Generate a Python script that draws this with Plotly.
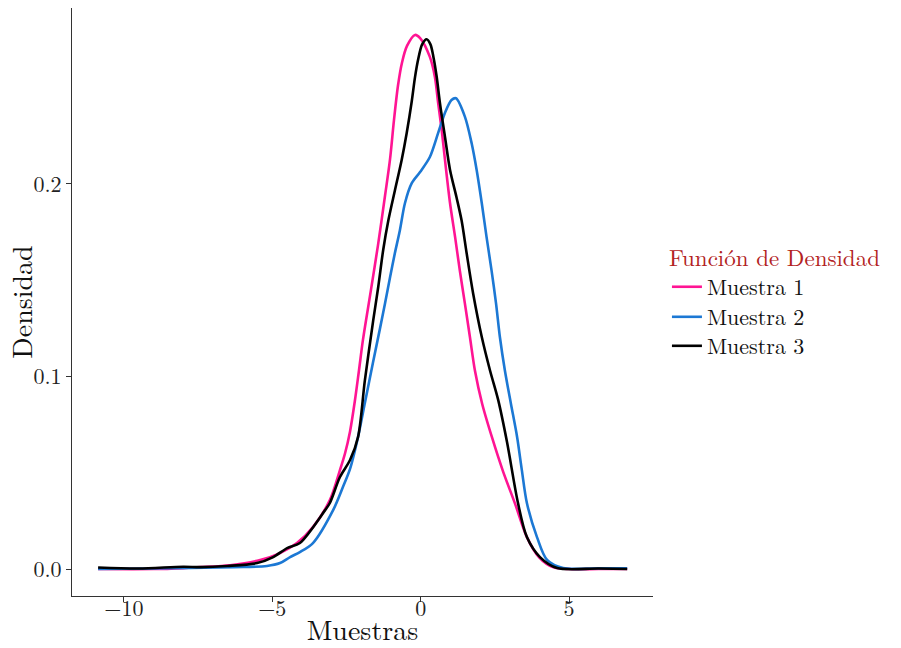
import plotly.graph_objects as go

# Muestra 1 (pink)
x1 = [-10.87, -9.0, -8.0, -7.43, -6.42, -5.41, -4.74, -4.17, -3.63, -3.06, -2.72, -2.55, -2.38, -2.22, -2.08, -1.945,
      -1.675, -1.44, -1.20, -1.035, -0.90, -0.765, -0.63, -0.46, -0.19, -0.02, 0.31, 0.48, 0.59, 0.71,
      0.82, 0.99, 1.16, 1.32, 1.49, 1.66, 1.83, 2.07, 2.40, 2.77, 3.18, 3.58, 4.0, 4.46, 5.0, 6.0, 6.96]
y1 = [0.0, 0.0, 0.0005, 0.001, 0.002, 0.0047, 0.0083, 0.0135, 0.0218, 0.0358, 0.0514, 0.060, 0.0715, 0.087, 0.103, 0.119,
      0.145, 0.168, 0.194, 0.2125, 0.233, 0.251, 0.263, 0.2717, 0.2774, 0.2758, 0.266, 0.2556, 0.242, 0.228,
      0.2125, 0.190, 0.1725, 0.155, 0.138, 0.1205, 0.103, 0.086, 0.0686, 0.051, 0.034, 0.0166, 0.006, 0.001, 0.0, 0.0, 0.0]

# Muestra 2 (blue)
x2 = [-10.87, -9.1, -6.32, -5.18, -4.74, -4.40, -4.07, -3.63, -2.95, -2.62, -2.38, -2.11, -1.88, -1.61,
      -1.37, -1.20, -1.03, -0.87, -0.70, -0.53, -0.30, -0.02, 0.31, 0.59, 0.82, 1.04, 1.19, 1.49, 1.72,
      1.89, 2.06, 2.22, 2.39, 2.54, 2.67, 2.84, 3.04, 3.25, 3.41, 3.58, 3.92, 4.26, 4.80, 6.0, 6.96]
y2 = [0.0, 0.0003, 0.001, 0.0016, 0.0031, 0.0062, 0.0088, 0.0135, 0.0306, 0.0426, 0.052, 0.0686, 0.0862, 0.107,
      0.125, 0.138, 0.1517, 0.164, 0.176, 0.190, 0.2004, 0.2062, 0.214, 0.2265, 0.237, 0.2436, 0.2445, 0.235, 0.221,
      0.207, 0.190, 0.1725, 0.155, 0.138, 0.1205, 0.103, 0.086, 0.0686, 0.0514, 0.0343, 0.0166, 0.0047, 0.0005, 0.0004, 0.0004]

# Muestra 3 (black)
x3 = [-10.87, -9.5, -8.0, -7.43, -6.52, -5.51, -4.97, -4.50, -4.07, -3.22, -3.06, -2.72, -2.38, -2.11,
      -1.88, -1.60, -1.43, -1.26, -1.09, -0.87, -0.64, -0.47, -0.30, -0.19, -0.08, 0.05, 0.20, 0.33, 0.43, 0.54, 0.65,
      0.82, 0.99, 1.21, 1.38, 1.55, 1.77, 2.06, 2.34, 2.61, 2.91, 3.28, 3.58, 4.02, 4.60, 6.0, 6.96]
y3 = [0.0008, 0.0003, 0.0012, 0.001, 0.0016, 0.0031, 0.0062, 0.0109, 0.0135, 0.0306, 0.0343, 0.0478, 0.0566, 0.0686,
      0.098, 0.129, 0.1465, 0.166, 0.181, 0.1965, 0.2125, 0.2265, 0.243, 0.2555, 0.265, 0.2725, 0.2752, 0.2725, 0.266, 0.2557, 0.242,
      0.2244, 0.2073, 0.193, 0.181, 0.164, 0.143, 0.1205, 0.103, 0.088, 0.066, 0.0343, 0.0166, 0.0062, 0.0005, 0.0003, 0.0]

names = ["Muestra 1", "Muestra 2", "Muestra 3"]
colors = ["#FF1493", "#1C78D4", "#000000"]
series = [(x1, y1), (x2, y2), (x3, y3)]
legends = ["legend", "legend2", "legend3"]

x_ticks = [-10, -5, 0, 5]
y_ticks = [0.0, 0.1, 0.2]

FONT = "Latin Modern Roman, CMU Serif, Liberation Serif, serif"

fig = go.Figure()
for (xs, ys), n, c, lg in zip(series, names, colors, legends):
    fig.add_trace(go.Scatter(x=xs, y=ys, mode="lines", name=n, legend=lg, showlegend=True,
                             line=dict(color=c, width=2.6, shape="spline", smoothing=0.85)))

axis_common = dict(showgrid=False, zeroline=False, showline=True, linecolor="#333333", linewidth=1.2,
                   ticks="outside", ticklen=5, tickcolor="#333333", automargin=False,
                   tickfont=dict(family=FONT, size=22, color="#222222"))

leg_font = dict(family=FONT, size=22, color="#111111")
leg_common = dict(x=1.024, xanchor="left", bgcolor="rgba(0,0,0,0)", font=leg_font, itemwidth=30)

fig.update_layout(
    width=901, height=648,
    margin=dict(l=72, r=248, t=8, b=52),
    plot_bgcolor="white", paper_bgcolor="white",
    font=dict(family=FONT),
    showlegend=True,
    xaxis=dict(range=[-11.75, 7.83], tickvals=x_ticks, ticklabelstandoff=-13,
               title=dict(text="Muestras", font=dict(family=FONT, size=28, color="#111111"), standoff=4),
               **axis_common),
    yaxis=dict(range=[-0.014, 0.2914], tickvals=y_ticks, tickformat=".1f",
               title=dict(text="Densidad", font=dict(family=FONT, size=28, color="#111111"), standoff=6),
               **axis_common),
    legend=dict(y=0.4897, yanchor="bottom",
                title=dict(text="Función de Densidad", font=dict(family=FONT, size=23, color="#B22222")),
                **leg_common),
    legend2=dict(y=(596 - 317) / 588, yanchor="middle", **leg_common),
    legend3=dict(y=(596 - 346) / 588, yanchor="middle", **leg_common),
)

fig.write_html("out.html")
